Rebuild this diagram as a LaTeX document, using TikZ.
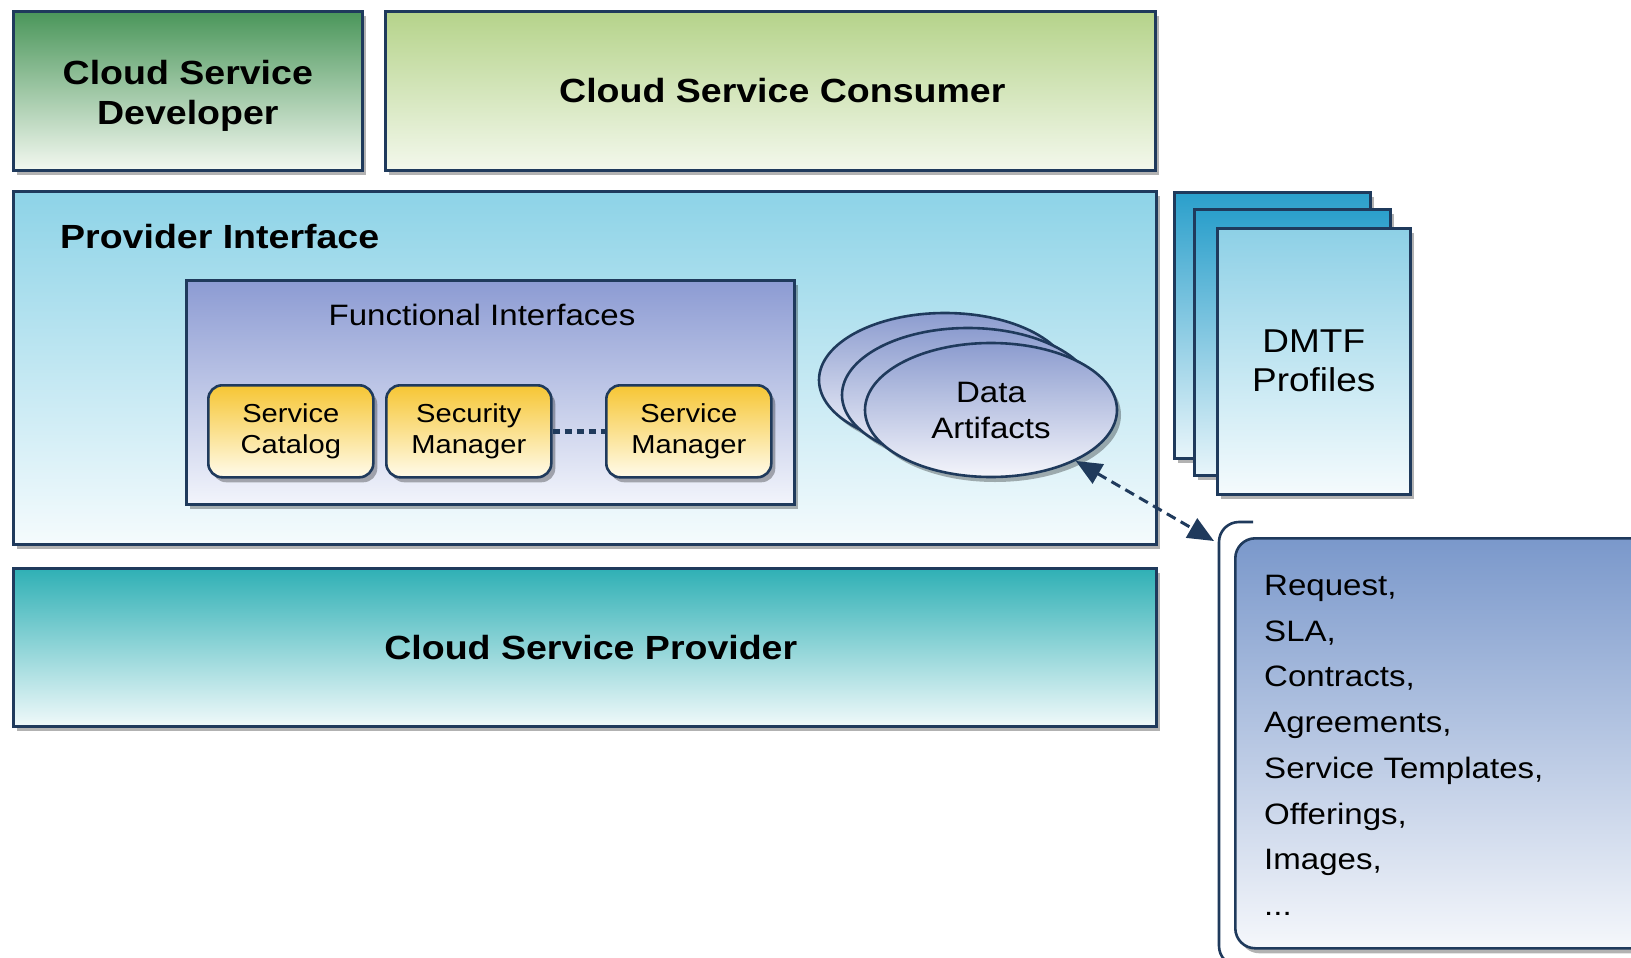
\documentclass[tikz,border=0pt]{standalone}
\usepackage{fontspec}
\setmainfont{Liberation Sans}[FakeStretch=1.12]
\usetikzlibrary{shapes.geometric,shadows,arrows.meta}
\definecolor{edge}{HTML}{1F3A5C}
\definecolor{devtop}{HTML}{4A965A}
\definecolor{devbot}{HTML}{F3F8F0}
\definecolor{contop}{HTML}{B5D38A}
\definecolor{conbot}{HTML}{F3F8EC}
\definecolor{pitop}{HTML}{8DD3E7}
\definecolor{pibot}{HTML}{F5FBFD}
\definecolor{csptop}{HTML}{2FB0B5}
\definecolor{cspbot}{HTML}{F0F9FA}
\definecolor{futop}{HTML}{8C9BD3}
\definecolor{fubot}{HTML}{F2F4FB}
\definecolor{yeltop}{HTML}{F6C634}
\definecolor{yelbot}{HTML}{FFFBEA}
\definecolor{eltop}{HTML}{8C9CCF}
\definecolor{elbot}{HTML}{F4F5FB}
\definecolor{pgback}{HTML}{2A9FCB}
\definecolor{pgbackbot}{HTML}{E8F5FA}
\definecolor{pgtop}{HTML}{8DD0E6}
\definecolor{pgbot}{HTML}{F5FBFD}
\definecolor{lsttop}{HTML}{7A98CB}
\definecolor{lstbot}{HTML}{F5F7FB}
\newcommand\fTitle{\fontsize{33.5}{40}\selectfont\bfseries}
\newcommand\fBody{\fontsize{29.5}{36}\selectfont}
\newcommand\fSmall{\fontsize{26}{31}\selectfont}
\newcommand\fDmtf{\fontsize{33}{39}\selectfont}
\newcommand\fList{\fontsize{29.5}{45.7}\selectfont}
\begin{document}
\begin{tikzpicture}[x=1pt,y=-1pt,
  shd/.style={drop shadow={shadow xshift=4pt,shadow yshift=-5pt,opacity=0.3,fill=black}},
  panel/.style={draw=edge,line width=2.6pt,rectangle,inner sep=0pt,anchor=north west,shd,text=black},
  ybox/.style={panel,rounded corners=14pt,minimum width=165pt,minimum height=92pt,top color=yeltop,bottom color=yelbot,align=center,font=\fSmall},
  ell/.style={ellipse,draw=edge,line width=2.6pt,inner sep=0pt,minimum width=252pt,minimum height=134pt,top color=eltop,bottom color=elbot,shd},
  pageback/.style={panel,minimum width=196pt,minimum height=266pt,top color=pgback,bottom color=pgbackbot},
  conn/.style={draw=edge,line width=3pt}
]
\clip (0,0) rectangle (1631,958);
\fill[white] (0,0) rectangle (1631,958);

% top row
\node[panel,minimum width=349pt,minimum height=159pt,top color=devtop,bottom color=devbot,align=center,font=\fTitle] (dev) at (12,10) {\rule{0pt}{34pt}Cloud Service\\Developer};
\node[panel,minimum width=770pt,minimum height=159pt,top color=contop,bottom color=conbot,font=\fTitle] (con) at (384,10) {\hspace*{24pt}Cloud Service Consumer};

% provider interface
\node[panel,minimum width=1143pt,minimum height=353pt,top color=pitop,bottom color=pibot] (pi) at (12,190) {};
\node[font=\fTitle,anchor=west,inner sep=0pt] (pit) at (60,237) {Provider Interface};

\node[panel,minimum width=608pt,minimum height=224pt,top color=futop,bottom color=fubot] (fu) at (185,279) {};
\node[font=\fBody,inner sep=0pt] (fut) at (482,315) {Functional Interfaces};

\node[ybox] (sc) at (207,384) {Service\\Catalog};
\node[ybox] (sec) at (385,384) {Security\\Manager};
\node[ybox] (sm) at (605,384) {Service\\Manager};
\draw[draw=edge,line width=5pt,dash pattern=on 7pt off 5pt] (sec.east) -- (sm.west);

% data artifacts
\node[ell] (da3) at (945,380) {};
\node[ell] (da2) at (968,395) {};
\node[ell,font=\fBody,align=center] (da) at (991,410) {Data\\Artifacts};

% cloud service provider
\node[panel,minimum width=1143pt,minimum height=158pt,top color=csptop,bottom color=cspbot,font=\fTitle] (csp) at (12,567) {\hspace*{12pt}Cloud Service Provider};

% DMTF profiles
\node[pageback] (pg3) at (1173,191) {};
\node[pageback] (pg2) at (1193,208) {};
\node[panel,minimum width=193pt,minimum height=266pt,top color=pgtop,bottom color=pgbot,align=center,font=\fDmtf] (pg) at (1216,227) {DMTF\\Profiles};

% list box
\draw[draw=edge,line width=2.6pt,rounded corners=20pt] (1253,522) -| (1219,966) -- (1250,966);
\node[panel,rounded corners=20pt,minimum width=450pt,minimum height=410pt,top color=lsttop,bottom color=lstbot] (lbox) at (1234,537) {};
\node[anchor=north west,inner sep=0pt,align=left,font=\fList] (lst) at (1264,575) {Request,\\SLA,\\Contracts,\\Agreements,\\Service Templates,\\Offerings,\\Images,\\...};

% arrow
\coordinate (brk) at (1214,541);
\draw[conn,dash pattern=on 10pt off 6pt,{Triangle[length=26pt,width=22pt]}-{Triangle[length=26pt,width=22pt]}] (da.-31) -- (brk);
\end{tikzpicture}
\end{document}
